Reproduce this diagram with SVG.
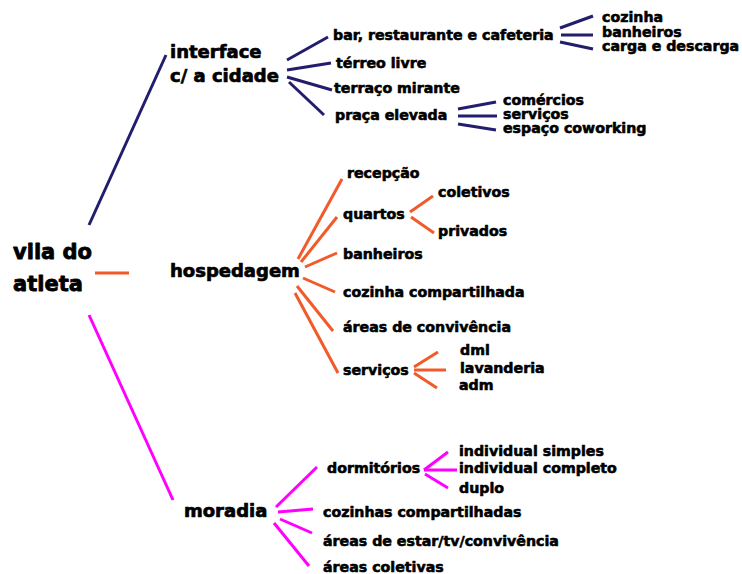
<svg xmlns="http://www.w3.org/2000/svg" width="742" height="574" viewBox="0 0 742 574">
<style>
text{font-family:"DejaVu Sans",sans-serif;font-weight:bold;fill:#000;stroke:#000;stroke-width:0.6;stroke-linejoin:round}
.t0{font-size:21px;stroke-width:0.8}
.t1{font-size:18px;stroke-width:0.7}
.t2{font-size:14.2px}
.nv{stroke:#221d6c;stroke-width:3;fill:none}
.or{stroke:#f15a29;stroke-width:3;fill:none}
.mg{stroke:#ff00ff;stroke-width:3;fill:none}
</style>
<rect width="742" height="574" fill="#fff"/>
<g id="connectors">
<line class="nv" x1="89" y1="225" x2="166" y2="55"/>
<line class="or" x1="95" y1="273" x2="129" y2="273"/>
<line class="mg" x1="89" y1="315" x2="173" y2="500"/>
<line class="nv" x1="287" y1="60" x2="328" y2="37"/>
<line class="nv" x1="287" y1="70" x2="331" y2="63"/>
<line class="nv" x1="287" y1="77" x2="332" y2="90"/>
<line class="nv" x1="289" y1="82" x2="324" y2="115"/>
<line class="nv" x1="560" y1="28" x2="593" y2="16"/>
<line class="nv" x1="561" y1="35" x2="593" y2="35"/>
<line class="nv" x1="560" y1="42" x2="593" y2="49"/>
<line class="nv" x1="458" y1="109" x2="496" y2="102"/>
<line class="nv" x1="458" y1="116" x2="497" y2="116"/>
<line class="nv" x1="458" y1="124" x2="496" y2="130"/>
<line class="or" x1="298" y1="259" x2="342" y2="179"/>
<line class="or" x1="301" y1="262" x2="337" y2="217"/>
<line class="or" x1="305" y1="267" x2="337" y2="253"/>
<line class="or" x1="303" y1="278" x2="335" y2="292"/>
<line class="or" x1="297" y1="286" x2="333" y2="331"/>
<line class="or" x1="295" y1="293" x2="338" y2="373"/>
<line class="or" x1="410" y1="212" x2="433" y2="196"/>
<line class="or" x1="411" y1="217" x2="434" y2="233"/>
<line class="or" x1="414" y1="367" x2="438" y2="352"/>
<line class="or" x1="414" y1="370" x2="446" y2="370"/>
<line class="or" x1="414" y1="373" x2="437" y2="388"/>
<line class="mg" x1="276" y1="507" x2="317" y2="467"/>
<line class="mg" x1="278" y1="512" x2="313" y2="509"/>
<line class="mg" x1="280" y1="519" x2="312" y2="533"/>
<line class="mg" x1="274" y1="523" x2="309" y2="566"/>
<line class="mg" x1="424" y1="470" x2="448" y2="452"/>
<line class="mg" x1="424" y1="470" x2="457" y2="470"/>
<line class="mg" x1="425" y1="474" x2="448" y2="488"/>
</g>
<g id="root"><text class="t0" x="13" y="259">vila do</text><text class="t0" x="13" y="291">atleta</text></g>
<g id="interface"><text class="t1" x="170" y="58">interface</text><text class="t1" x="170" y="82">c/ a cidade</text></g>
<g id="bar"><text class="t2" x="333" y="40">bar, restaurante e cafeteria</text></g>
<g id="cozinha1"><text class="t2" x="602" y="22">cozinha</text></g>
<g id="banheiros1"><text class="t2" x="602" y="37">banheiros</text></g>
<g id="carga"><text class="t2" x="602" y="51">carga e descarga</text></g>
<g id="terreo"><text class="t2" x="336" y="68">térreo livre</text></g>
<g id="terraco"><text class="t2" x="334" y="93">terraço mirante</text></g>
<g id="praca"><text class="t2" x="335" y="120">praça elevada</text></g>
<g id="comercios"><text class="t2" x="503" y="105">comércios</text></g>
<g id="servicos1"><text class="t2" x="503" y="119">serviços</text></g>
<g id="coworking"><text class="t2" x="503" y="133">espaço coworking</text></g>
<g id="hospedagem"><text class="t1" x="170" y="277">hospedagem</text></g>
<g id="recepcao"><text class="t2" x="347" y="178">recepção</text></g>
<g id="quartos"><text class="t2" x="343" y="219">quartos</text></g>
<g id="coletivos"><text class="t2" x="438" y="197">coletivos</text></g>
<g id="privados"><text class="t2" x="438" y="236">privados</text></g>
<g id="banheiros2"><text class="t2" x="343" y="259">banheiros</text></g>
<g id="cozinha2"><text class="t2" x="343" y="297">cozinha compartilhada</text></g>
<g id="convivencia"><text class="t2" x="343" y="332">áreas de convivência</text></g>
<g id="servicos2"><text class="t2" x="343" y="375">serviços</text></g>
<g id="dml"><text class="t2" x="460" y="355">dml</text></g>
<g id="lavanderia"><text class="t2" x="460" y="373">lavanderia</text></g>
<g id="adm"><text class="t2" x="459" y="390">adm</text></g>
<g id="moradia"><text class="t1" x="184" y="517">moradia</text></g>
<g id="dormitorios"><text class="t2" x="327" y="473">dormitórios</text></g>
<g id="ind-simples"><text class="t2" x="459" y="456">individual simples</text></g>
<g id="ind-completo"><text class="t2" x="459" y="473">individual completo</text></g>
<g id="duplo"><text class="t2" x="459" y="493">duplo</text></g>
<g id="cozinhas3"><text class="t2" x="323" y="517">cozinhas compartilhadas</text></g>
<g id="estar"><text class="t2" x="323" y="546">áreas de estar/tv/convivência</text></g>
<g id="coletivas"><text class="t2" x="323" y="572">áreas coletivas</text></g>
</svg>
